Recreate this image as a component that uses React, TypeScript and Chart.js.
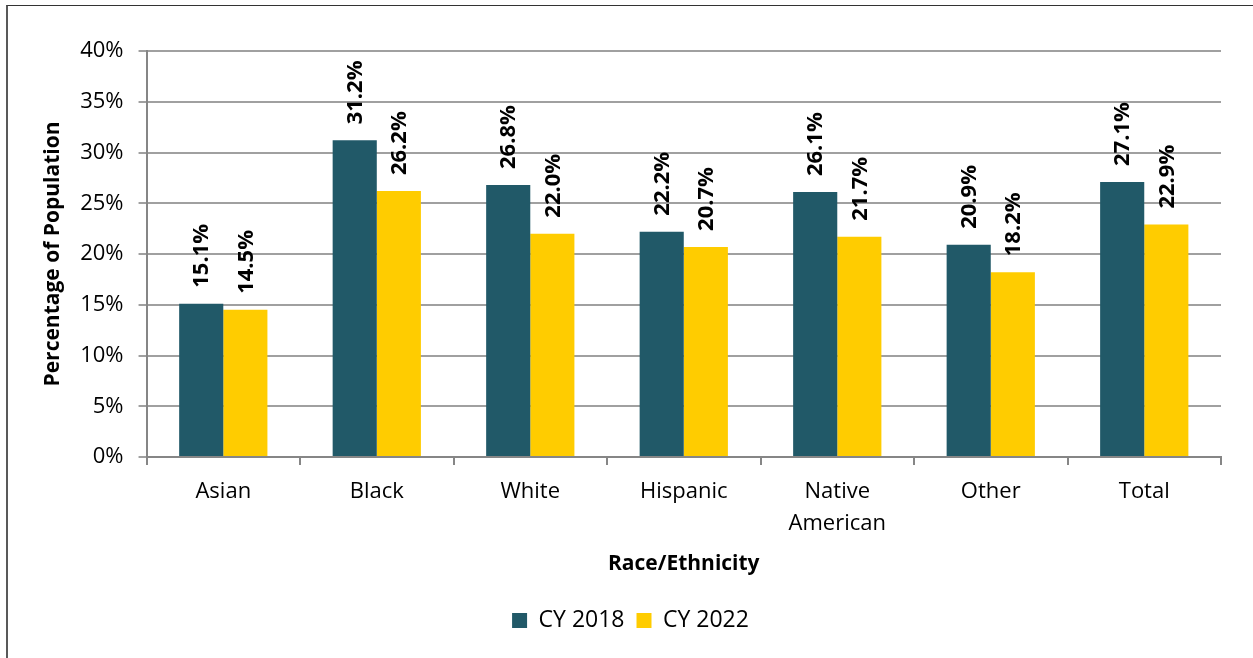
import React, { useEffect, useRef } from "react";
import { Chart, registerables } from "chart.js";

Chart.register(...registerables);

const categories: (string | string[])[] = ["Asian", "Black", "White", "Hispanic", ["Native", "American"], "Other", "Total"];
const series2018: number[] = [15.1, 31.2, 26.8, 22.2, 26.1, 20.9, 27.1];
const series2022: number[] = [14.5, 26.2, 22.0, 20.7, 21.7, 18.2, 22.9];
const seriesNames: string[] = ["CY 2018", "CY 2022"];
const yTicks: number[] = [0, 5, 10, 15, 20, 25, 30, 35, 40];

const FONT = "'Open Sans', 'Noto Sans', sans-serif";

const labelPlugin = {
  id: "barLabels",
  afterDatasetsDraw(chart: any) {
    const ctx = chart.ctx;
    ctx.save();
    ctx.font = `bold 22px ${FONT}`;
    ctx.fillStyle = "#000";
    ctx.textAlign = "left";
    ctx.textBaseline = "middle";
    chart.data.datasets.forEach((ds: any, di: number) => {
      const meta = chart.getDatasetMeta(di);
      meta.data.forEach((el: any, i: number) => {
        const v = ds.data[i];
        ctx.save();
        ctx.translate(el.x + 1, el.y - 16);
        ctx.rotate(-Math.PI / 2);
        ctx.fillText(v.toFixed(1) + "%", 0, 0);
        ctx.restore();
      });
    });
    ctx.restore();
  },
};

export default function App() {
  const ref = useRef<HTMLCanvasElement | null>(null);
  useEffect(() => {
    if (!ref.current) return;
    const chart = new Chart(ref.current, {
      type: "bar",
      data: {
        labels: categories,
        datasets: [
          { label: seriesNames[0], data: series2018, backgroundColor: "#215968", categoryPercentage: 0.575, barPercentage: 1.0 },
          { label: seriesNames[1], data: series2022, backgroundColor: "#FFCC00", categoryPercentage: 0.575, barPercentage: 1.0 },
        ],
      },
      options: {
        animation: false,
        responsive: false,
        maintainAspectRatio: false,
        layout: { padding: { left: 40, right: 32, top: 51, bottom: 16 } },
        plugins: {
          legend: {
            position: "bottom",
            labels: {
              font: { family: FONT, size: 23 },
              color: "#000",
              boxWidth: 15,
              boxHeight: 15,
              padding: 12,
            },
          },
          tooltip: { enabled: false },
        },
        scales: {
          x: {
            grid: { display: true, drawOnChartArea: false, drawTicks: true, tickLength: 8, color: "#868686", lineWidth: 2, offset: true },
            border: { display: true, color: "#868686", width: 2 },
            ticks: { font: { family: FONT, size: 22, lineHeight: 1.45 }, color: "#000", padding: 11, maxRotation: 0 },
            title: { display: true, text: "Race/Ethnicity", font: { family: FONT, size: 21, weight: "bold" }, color: "#000", padding: { top: 1, bottom: 20 } },
          },
          y: {
            min: 0,
            max: 40,
            afterBuildTicks: (axis: any) => {
              axis.ticks = yTicks.map((v) => ({ value: v }));
            },
            grid: { color: "#a0a0a0", lineWidth: 2, drawTicks: true, tickLength: 8 },
            border: { display: true, color: "#868686", width: 2 },
            ticks: { font: { family: FONT, size: 22 }, color: "#000", padding: 15, callback: (v: any) => v + "%" },
            title: { display: true, text: "Percentage of Population", font: { family: FONT, size: 21, weight: "bold" }, color: "#000", padding: { top: 0, bottom: 0 } },
          },
        },
      },
      plugins: [labelPlugin],
    });
    return () => chart.destroy();
  }, []);
  return (
    <div style={{ position: "fixed", left: 0, top: 0, width: 1253, height: 658, background: "#fff", overflow: "hidden" }}>
      <canvas ref={ref} width={1253} height={658} style={{ position: "absolute", left: 0, top: 0 }} />
      <div style={{ position: "absolute", left: 6, top: 5, width: 1300, height: 700, borderLeft: "2px solid #595959", borderTop: "1px solid #333", pointerEvents: "none" }} />
    </div>
  );
}
